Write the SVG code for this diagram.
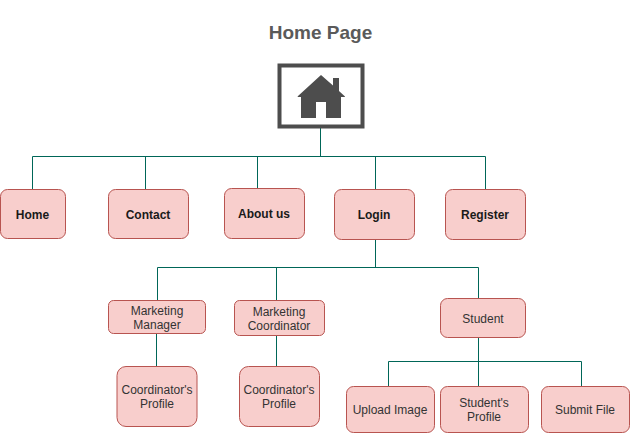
<svg xmlns="http://www.w3.org/2000/svg" width="631" height="436" viewBox="0 0 631 436">
<style>
text{font-family:"Liberation Sans",Arial,sans-serif;font-size:12px;fill:#333;text-anchor:middle}
.b{font-weight:bold;fill:#1a1a1a}
.n{fill:#f8cecc;stroke:#b85450;stroke-width:1}
.c{fill:none;stroke:#006658;stroke-width:1}
</style>
<rect width="631" height="436" fill="#fff"/>
<g id="connectors" class="c">
<path d="M320.500 128V156.500M32.500 189V156.500H485.500V189M145.500 156.500V189M257.500 156.500V188M375.500 156.500V189"/>
<path d="M375.500 240V267.500M157.500 300V267.500H478.500V298M276.500 267.500V300"/>
<path d="M156.500 334V366M276.500 336V366"/>
<path d="M478.500 338V386M388.500 386V361.500H581.500V386"/>
</g>
<g id="title"><text x="320.500" y="39" style="font-size:19px;font-weight:bold;fill:#5a5a5a">Home Page</text></g>
<g id="home-icon">
<rect x="279.500" y="65.500" width="83" height="61" fill="#fff" stroke="#4d4d4d" stroke-width="4"/>
<path d="M321 75L333 85.500V78H339V91L345 96.500Q345 97 344 97H341V118H326V102H316V118H301V97H298Q297 97 298 96Z" fill="#4d4d4d"/>
</g>
<g id="home"><rect class="n" x="0.500" y="189.500" width="65" height="49" rx="7"/><text class="b" x="32.500" y="219">Home</text></g>
<g id="contact"><rect class="n" x="108.500" y="189.500" width="80" height="49" rx="7"/><text class="b" x="148" y="219">Contact</text></g>
<g id="about"><rect class="n" x="224.500" y="188.500" width="80" height="50" rx="7"/><text class="b" x="264" y="218">About us</text></g>
<g id="login"><rect class="n" x="334.500" y="189.500" width="80" height="50" rx="7"/><text class="b" x="374" y="219">Login</text></g>
<g id="register"><rect class="n" x="445.500" y="189.500" width="80" height="50" rx="7"/><text class="b" x="485" y="219">Register</text></g>
<g id="marketing-manager"><rect class="n" x="108.500" y="300.500" width="97" height="33" rx="5"/><text x="157" y="315">Marketing</text><text x="157" y="329">Manager</text></g>
<g id="marketing-coordinator"><rect class="n" x="234.500" y="300.500" width="90" height="35" rx="5"/><text x="279" y="316">Marketing</text><text x="279" y="330">Coordinator</text></g>
<g id="student"><rect class="n" x="440.500" y="298.500" width="85" height="39" rx="7"/><text x="483" y="323">Student</text></g>
<g id="profile-1"><rect class="n" x="117" y="366.500" width="80" height="60" rx="9"/><text x="157" y="394">Coordinator's</text><text x="157" y="408">Profile</text></g>
<g id="profile-2"><rect class="n" x="239.500" y="366.500" width="80" height="60" rx="9"/><text x="279" y="394">Coordinator's</text><text x="279" y="408">Profile</text></g>
<g id="upload"><rect class="n" x="346.500" y="386.500" width="88" height="46" rx="7"/><text x="390" y="414">Upload Image</text></g>
<g id="student-profile"><rect class="n" x="440.500" y="386.500" width="88" height="46" rx="7"/><text x="484" y="407">Student's</text><text x="484" y="421">Profile</text></g>
<g id="submit"><rect class="n" x="541.500" y="386.500" width="88" height="46" rx="7"/><text x="585" y="414">Submit File</text></g>
</svg>
